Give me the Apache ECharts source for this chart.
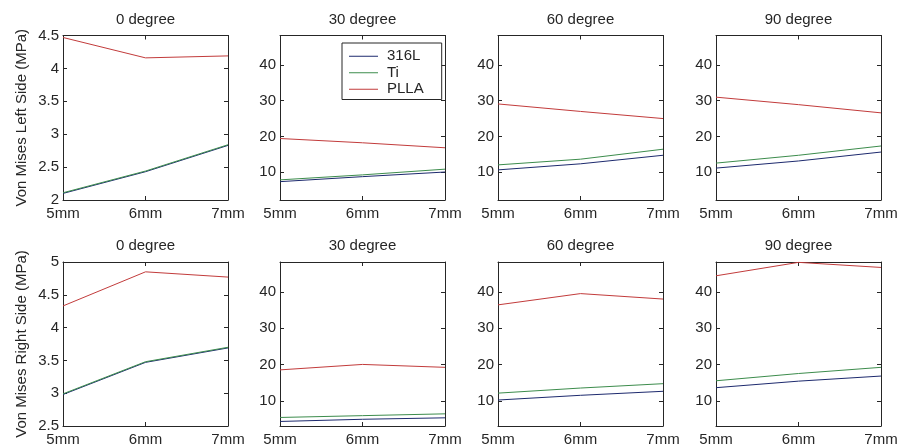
<!DOCTYPE html>
<html>
<head>
<meta charset="utf-8">
<script src="https://cdn.jsdelivr.net/npm/echarts@6/dist/echarts.min.js"></script>
<style>
html,body{margin:0;padding:0;background:#fff;}
#chart{width:907px;height:447px;}
</style>
</head>
<body>
<div id="chart"></div>
<script>
// ---------- data ----------
const categories = ['5mm', '6mm', '7mm'];
const panelTitles = ['0 degree', '30 degree', '60 degree', '90 degree'];
const seriesNames = ['316L', 'Ti', 'PLLA'];
const rowLabels = ['Von Mises Left Side (MPa)', 'Von Mises Right Side (MPa)'];

// Left side (top row), one array per panel: 0, 30, 60, 90 degree
const left_316L = [[2.10, 2.43, 2.83], [7.3, 8.7, 10.0], [10.6, 12.3, 14.7], [11.1, 13.1, 15.6]];
const left_Ti   = [[2.11, 2.44, 2.84], [7.8, 9.2, 10.8], [12.0, 13.6, 16.4], [12.5, 14.7, 17.3]];
const left_PLLA = [[4.47, 4.16, 4.19], [19.4, 18.2, 16.8], [29.1, 27.0, 25.0], [31.0, 28.9, 26.6]];

// Right side (bottom row)
const right_316L = [[2.98, 3.47, 3.69], [4.3, 4.9, 5.3], [10.2, 11.5, 12.6], [13.6, 15.4, 16.8]];
const right_Ti   = [[2.99, 3.48, 3.70], [5.4, 5.9, 6.4], [12.1, 13.5, 14.7], [15.5, 17.5, 19.2]];
const right_PLLA = [[4.33, 4.85, 4.77], [18.5, 20.0, 19.2], [36.4, 39.5, 38.0], [44.4, 48.1, 46.7]];

// y tick labels
const yTicksLeft0 = [2, 2.5, 3, 3.5, 4, 4.5];
const yTicksRight0 = [2.5, 3, 3.5, 4, 4.5, 5];
const yTicksOther = [10, 20, 30, 40];

// ---------- layout / style ----------
const FONT = 'Liberation Sans, Arial, Helvetica, sans-serif';
const TXT = '#262626';
const AX = '#262626';
const colors = ['#1d2a6e', '#3c8c4c', '#c23b3b'];
const lefts = [63, 280, 498, 716];
const W = 165;
const tops = [35.5, 262];
const heights = [164.5, 165.5];
const yRanges = [
  [[2, 4.5], [2.15, 48.3], [2.15, 48.3], [2.15, 48.3]],
  [[2.5, 5], [3.05, 48.2], [3.05, 48.2], [3.05, 48.2]]
];
const yTicks = [
  [yTicksLeft0, yTicksOther, yTicksOther, yTicksOther],
  [yTicksRight0, yTicksOther, yTicksOther, yTicksOther]
];
const rowData = [
  [left_316L, left_Ti, left_PLLA],
  [right_316L, right_Ti, right_PLLA]
];

const grid = [], xAxis = [], yAxis = [], series = [], title = [];
for (let r = 0; r < 2; r++) {
  for (let c = 0; c < 4; c++) {
    const g = grid.length;
    grid.push({ left: lefts[c], top: tops[r], width: W, height: heights[r], containLabel: false });
    title.push({
      text: panelTitles[c], left: lefts[c] + W / 2, top: r === 0 ? 12 : 238.5, textAlign: 'center', padding: 0,
      textStyle: { fontSize: 15, fontWeight: 'normal', color: TXT, fontFamily: FONT }
    });
    const axLine = { show: true, onZero: false, lineStyle: { color: AX, width: 1 } };
    const tick = { show: true, inside: true, length: 4, lineStyle: { color: AX, width: 1 } };
    xAxis.push({
      type: 'category', gridIndex: g, position: 'bottom', data: categories, boundaryGap: false,
      axisLine: axLine, axisTick: Object.assign({}, tick, { interval: 0 }),
      axisLabel: { interval: 0, margin: 6, fontSize: 15, color: TXT, fontFamily: FONT },
      splitLine: { show: false }
    });
    xAxis.push({
      type: 'category', gridIndex: g, position: 'top', data: categories, boundaryGap: false,
      axisLine: axLine, axisTick: Object.assign({}, tick, { interval: 0 }),
      axisLabel: { show: false }, splitLine: { show: false }
    });
    const yr = yRanges[r][c];
    const yt = yTicks[r][c];
    const yl = {
      type: 'value', gridIndex: g, position: 'left', min: yr[0], max: yr[1],
      axisLine: axLine, axisTick: Object.assign({}, tick, { customValues: yt }),
      axisLabel: { customValues: yt, margin: 4, fontSize: 15, color: TXT, fontFamily: FONT },
      splitLine: { show: false }
    };
    if (c === 0) {
      yl.name = rowLabels[r];
      yl.nameLocation = 'middle';
      yl.nameGap = 34;
      yl.nameTextStyle = { fontSize: 15, color: TXT, fontFamily: FONT };
    }
    yAxis.push(yl);
    yAxis.push({
      type: 'value', gridIndex: g, position: 'right', min: yr[0], max: yr[1],
      axisLine: axLine, axisTick: Object.assign({}, tick, { customValues: yt }),
      axisLabel: { show: false }, splitLine: { show: false }
    });
    for (let s = 0; s < 3; s++) {
      series.push({
        type: 'line', name: seriesNames[s], xAxisIndex: 2 * g, yAxisIndex: 2 * g,
        data: rowData[r][s][c], symbol: 'none', showSymbol: false,
        lineStyle: { width: 1, color: colors[s] }, itemStyle: { color: colors[s] },
        emphasis: { disabled: true }, silent: true
      });
    }
  }
}

const chart = echarts.init(document.getElementById('chart'), null, { renderer: 'canvas' });
chart.setOption({
  animation: false,
  backgroundColor: '#fff',
  color: colors,
  title: title,
  legend: {
    data: seriesNames.map(n => ({ name: n, icon: 'rect' })),
    orient: 'vertical', left: 342, top: 43,
    backgroundColor: '#fff', borderColor: AX, borderWidth: 1,
    padding: [5, 18, 2, 7], itemWidth: 29, itemHeight: 1, itemGap: 0,
    selectedMode: false,
    itemStyle: { borderWidth: 0 },
    textStyle: { fontSize: 15, lineHeight: 16.5, color: TXT, fontFamily: FONT, padding: [0, 0, 0, 4] }
  },
  grid: grid, xAxis: xAxis, yAxis: yAxis, series: series
});
</script>
</body>
</html>
